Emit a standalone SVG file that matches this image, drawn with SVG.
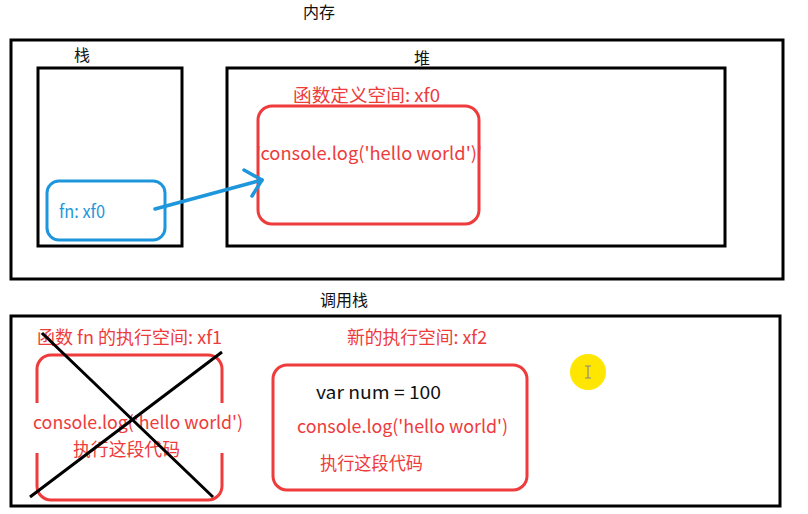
<svg xmlns="http://www.w3.org/2000/svg" width="808" height="514" viewBox="0 0 808 514">
<defs>
<style>
text{font-family:"Noto Sans CJK SC","Liberation Sans",sans-serif;}
.t{font-size:16px;fill:#111;}
.r{font-size:18px;fill:#ee3b3b;}
.k{font-size:18px;fill:#111;}
.b{font-size:18px;fill:#1e96dc;}
.box{fill:none;stroke:#000;stroke-width:3;}
.rb{fill:none;stroke:#ee3b3b;stroke-width:3;}
.bb{fill:none;stroke:#1e96dc;stroke-width:3;}
</style>
</defs>
<rect width="808" height="514" fill="#fff"/>
<text class="t" x="319" y="18" text-anchor="middle">内存</text>
<g id="memory"><rect class="box" x="11" y="40" width="772" height="239"/></g>
<g id="stack">
<text class="t" x="82" y="61" text-anchor="middle">栈</text>
<rect class="box" x="38" y="68" width="144" height="178"/>
</g>
<g id="heap">
<text class="t" x="422" y="64" text-anchor="middle">堆</text>
<rect class="box" x="227" y="68" width="498" height="178"/>
</g>
<g id="funcdef">
<text class="r" x="293" y="102" textLength="147" lengthAdjust="spacingAndGlyphs">函数定义空间:  xf0</text>
<rect class="rb" x="258" y="106" width="221" height="118" rx="14"/>
<text class="r" x="256" y="160" textLength="226" lengthAdjust="spacingAndGlyphs">'console.log('hello world')'</text>
</g>
<g id="fnvar">
<rect class="bb" x="47" y="181" width="118" height="59" rx="12"/>
<text class="b" x="59" y="218" textLength="46" lengthAdjust="spacingAndGlyphs">fn: xf0</text>
</g>
<g id="connectors">
<path d="M155 209 L262 180" fill="none" stroke="#1e96dc" stroke-width="3.5" stroke-linecap="round"/>
<path d="M244 170 L262 180 L252 196" fill="none" stroke="#1e96dc" stroke-width="3.5" stroke-linecap="round" stroke-linejoin="round"/>
</g>
<text class="t" x="344" y="306" text-anchor="middle">调用栈</text>
<g id="callstack"><rect class="box" x="11" y="316" width="769" height="190"/></g>
<g id="xf1">
<text class="r" x="37" y="344" textLength="185" lengthAdjust="spacingAndGlyphs">函数 fn 的执行空间: xf1</text>
<rect class="rb" x="37" y="355" width="185" height="145" rx="14"/>
<rect x="30" y="403" width="14" height="50" fill="#fff"/>
<rect x="215" y="403" width="14" height="50" fill="#fff"/>
<text class="r" x="33" y="429" textLength="210" lengthAdjust="spacingAndGlyphs">console.log('hello world')</text>
<text class="r" x="73" y="456" textLength="107" lengthAdjust="spacingAndGlyphs">执行这段代码</text>
<path d="M42 333 L213 497 M222 352 L30 497" stroke="#000" stroke-width="3" fill="none"/>
</g>
<g id="xf2">
<text class="r" x="347" y="344" textLength="140" lengthAdjust="spacingAndGlyphs">新的执行空间: xf2</text>
<rect class="rb" x="273" y="365" width="254" height="125" rx="14"/>
<text class="k" x="316" y="399" textLength="125" lengthAdjust="spacingAndGlyphs">var num = 100</text>
<text class="r" x="297" y="433" textLength="211" lengthAdjust="spacingAndGlyphs">console.log('hello world')</text>
<text class="r" x="320" y="470" textLength="103" lengthAdjust="spacingAndGlyphs">执行这段代码</text>
</g>
<g id="cursor">
<circle cx="588" cy="372" r="18" fill="#ffe600"/>
<path d="M585 366 H591 M588 366 V378 M585 378 H591" stroke="#888" stroke-width="1.2" fill="none"/>
</g>
</svg>
